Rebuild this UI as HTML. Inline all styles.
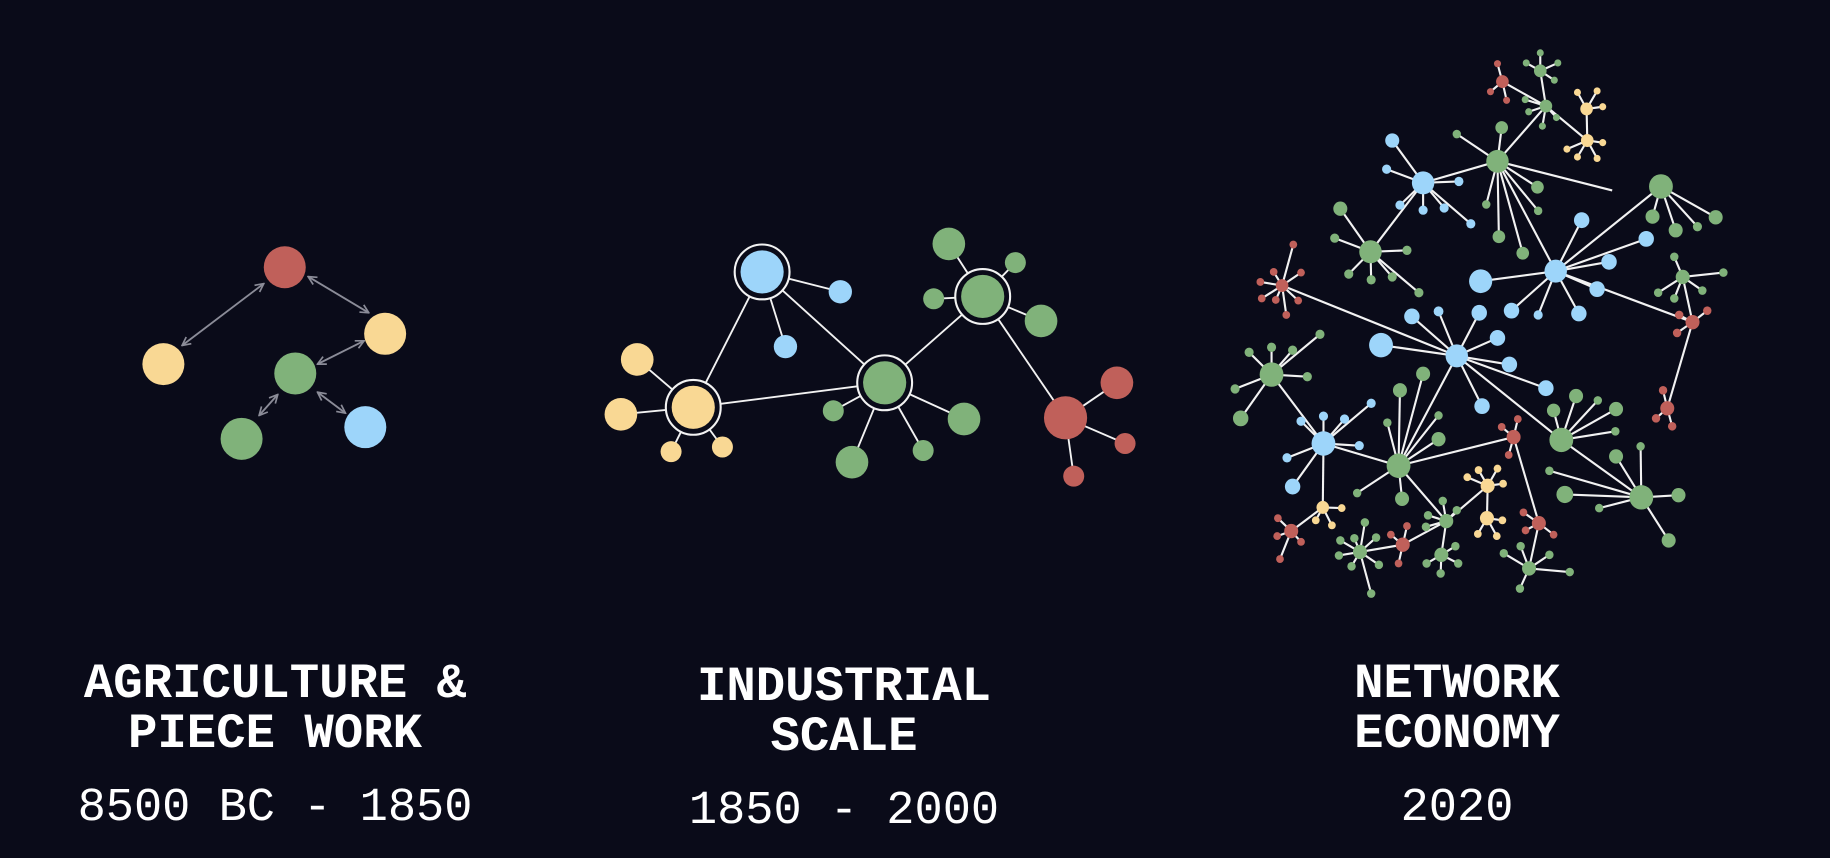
<!DOCTYPE html>
<html><head><meta charset="utf-8"><style>
html,body{margin:0;padding:0;background:#0a0b19;}
#wrap{position:relative;width:1830px;height:858px;overflow:hidden;background:#0a0b19;}
svg{position:absolute;left:0;top:0;}
.t{font-family:"Liberation Mono",monospace;fill:#fff;text-anchor:middle;}
.h{font-weight:bold;font-size:49px;}
.d{font-size:47px;}
</style></head><body>
<div id="wrap">
<svg id="svg" width="1830" height="858" viewBox="0 0 1830 858">
<defs>
<marker id="ah" viewBox="0 0 10 10" refX="9" refY="5" markerWidth="9" markerHeight="9" orient="auto-start-reverse" markerUnits="userSpaceOnUse"><path d="M1,1 L9,5 L1,9" fill="none" stroke="#8b8c98" stroke-width="1.6"/></marker>
</defs>
<g id="left" transform="scale(1.16709)"></g>
<g id="mid" transform="scale(1.16709)"></g>
<g id="right" transform="translate(1200,45) scale(0.3508,0.359)"></g>
<g>
<text class="t h" x="275" y="697">AGRICULTURE &amp;</text>
<text class="t h" x="275" y="747">PIECE WORK</text>
<text class="t d" x="275" y="820">8500 BC - 1850</text>
</g>
<g>
<text class="t h" x="844" y="700">INDUSTRIAL</text>
<text class="t h" x="844" y="750">SCALE</text>
<text class="t d" x="844" y="823">1850 - 2000</text>
</g>
<g>
<text class="t h" x="1457" y="697">NETWORK</text>
<text class="t h" x="1457" y="747">ECONOMY</text>
<text class="t d" x="1457" y="820">2020</text>
</g>
</svg>
</div>
<script>
const C={G:'#80b27a',B:'#9dd5fa',R:'#c0605a',Y:'#f9d894'};
const NS='http://www.w3.org/2000/svg';
function mk(parent,tag,attrs){const e=document.createElementNS(NS,tag);for(const k in attrs)e.setAttribute(k,attrs[k]);parent.appendChild(e);return e;}

// Left diagram
const leftNodes=[[244,229,'R'],[140,312,'Y'],[330,286,'Y'],[253,320,'G'],[207,376,'G'],[313,366,'B']];
const leftArrows=[[226,243,156,296],[264,237,316,268],[272,312,312,292],[238,338,222,356],[272,336,296,354]];
const L=document.getElementById('left');
leftArrows.forEach(a=>{const l=mk(L,'line',{x1:a[0],y1:a[1],x2:a[2],y2:a[3],stroke:'#8b8c98','stroke-width':1.6,'marker-start':'url(#ah)','marker-end':'url(#ah)'});

});
leftNodes.forEach(n=>{const c=mk(L,'circle',{cx:n[0],cy:n[1],r:18,fill:C[n[2]]});

});

// Middle diagram
const midHubs=[[653,233,'B'],[594,349,'Y'],[758,328,'G'],[842,254,'G']];
const midLeaves=[[720,250,10,'B',0],[673,297,10,'B',0],[546,308,14,'Y',1],[532,355,14,'Y',1],[575,387,9,'Y',1],[619,383,9,'Y',1],
[714,352,9,'G',2],[730,396,14,'G',2],[791,386,9,'G',2],[826,359,14,'G',2],
[813,209,14,'G',3],[870,225,9,'G',3],[800,256,9,'G',3],[892,275,14,'G',3]];
const redHub=[913,358];
const redLeaves=[[957,328,14],[964,380,9],[920,408,9]];
const midEdges=[[1,0],[0,2],[1,2],[2,3]];
const M=document.getElementById('mid');
function ln(p,x1,y1,x2,y2,w){const l=mk(p,'line',{x1,y1,x2,y2,stroke:'#f2f2f2','stroke-width':w});

return l;}
midEdges.forEach(e=>ln(M,midHubs[e[0]][0],midHubs[e[0]][1],midHubs[e[1]][0],midHubs[e[1]][1],1.6));
ln(M,midHubs[3][0],midHubs[3][1],redHub[0],redHub[1],1.6);
midLeaves.forEach(l=>ln(M,l[0],l[1],midHubs[l[4]][0],midHubs[l[4]][1],1.6));
redLeaves.forEach(l=>ln(M,l[0],l[1],redHub[0],redHub[1],1.6));
midLeaves.forEach(l=>{const c=mk(M,'circle',{cx:l[0],cy:l[1],r:l[2],fill:C[l[3]]});

});
redLeaves.forEach(l=>{const c=mk(M,'circle',{cx:l[0],cy:l[1],r:l[2],fill:C.R});

});
midHubs.forEach(h=>{const g=mk(M,'circle',{cx:h[0],cy:h[1],r:23.5,fill:'#0a0b19',stroke:'#f2f2f2','stroke-width':1.8});


const c=mk(M,'circle',{cx:h[0],cy:h[1],r:18.5,fill:C[h[2]]});

});
const rh=mk(M,'circle',{cx:redHub[0],cy:redHub[1],r:18.5,fill:C.R});



// Right network (zoom-space coords)
const hubs={
R1:[862,102,18,'R',[[848,52,10],[828,130,10],[874,154,10]]],
G1:[970,72,18,'G',[[970,22,10],[930,50,10],[1020,50,10],[1010,98,10]]],
G2:[986,170,18,'G',[[927,152,10],[937,186,10],[976,226,10],[1016,202,10]]],
Y1:[1102,178,18,'Y',[[1076,132,10],[1132,128,10],[1148,172,10]]],
Y2:[1104,266,18,'Y',[[1046,290,10],[1076,312,10],[1132,316,10],[1148,272,10]]],
G3:[848,324,32,'G',[[860,230,18],[732,248,12],[962,396,18],[964,462,12],[816,444,12],[852,534,18],[920,580,18],[1175,405,0]]],
B1:[636,384,32,'B',[[548,266,20],[532,346,13],[738,380,13],[570,446,13],[636,460,13],[696,454,13],[772,498,13]]],
G4:[486,576,32,'G',[[400,456,20],[384,538,13],[590,572,13],[424,638,13],[488,654,13],[548,646,13],[624,690,13]]],
R2:[234,670,18,'R',[[266,556,11],[288,634,11],[210,632,11],[172,660,11],[176,706,11],[216,710,11],[280,712,11],[246,752,11]]],
B3:[1014,630,32,'B',[[1088,488,22],[1272,540,22],[1166,604,22],[1132,680,22],[1080,748,22],[964,752,13],[888,740,22],[800,658,33]]],
G5:[1314,394,34,'G',[[1290,478,20],[1356,516,20],[1418,506,13],[1470,480,20]]],
G6:[1376,646,20,'G',[[1352,590,12],[1492,634,12],[1306,690,12],[1352,706,12],[1432,684,12]]],
R3:[1404,772,20,'R',[[1366,752,12],[1446,740,12],[1360,802,12]]],
R4:[1332,1012,20,'R',[[1320,962,12],[1300,1040,12],[1346,1062,12]]],
B4:[732,866,32,'B',[[604,756,22],[680,742,14],[796,746,22],[848,816,22],[882,890,22],[986,956,22],[804,1006,22],[516,836,34]]],
G7:[204,918,34,'G',[[140,856,13],[204,842,13],[264,850,13],[342,806,13],[306,924,13],[100,958,13],[116,1040,22]]],
B5:[352,1110,34,'B',[[288,1048,13],[352,1034,13],[412,1042,13],[488,998,13],[454,1116,13],[248,1150,13],[264,1230,22]]],
G8:[566,1172,34,'G',[[570,962,20],[636,916,20],[534,1052,12],[680,1032,12],[680,1098,20],[448,1248,12],[576,1264,20]]],
R5:[894,1092,20,'R',[[860,1064,11],[906,1042,11],[880,1142,11]]],
G9:[1030,1100,34,'G',[[1008,1018,19],[1072,978,20],[1134,990,12],[1186,1014,20],[1184,1076,12]]],
G11:[1258,1260,34,'G',[[1186,1146,20],[1256,1118,12],[1364,1254,20],[1336,1380,20],[1138,1290,12],[996,1186,12],[1040,1252,24]]],
R6:[966,1332,20,'R',[[922,1302,11],[928,1352,11],[1008,1364,11]]],
G12:[938,1458,20,'G',[[914,1396,12],[866,1416,12],[996,1420,12],[1054,1468,12],[912,1514,12]]],
Y3:[350,1288,18,'Y',[[404,1290,11],[330,1324,11],[376,1338,11]]],
R7:[260,1354,20,'R',[[222,1318,11],[220,1368,11],[288,1384,11],[228,1432,11]]],
Y4:[820,1228,20,'Y',[[762,1204,11],[794,1184,11],[848,1180,11],[864,1222,11]]],
Y5:[818,1318,20,'Y',[[792,1362,11],[846,1368,11],[862,1324,11]]],
G10:[702,1326,20,'G',[[692,1270,12],[732,1296,12],[650,1310,12],[644,1342,12]]],
G13:[688,1420,20,'G',[[646,1444,12],[686,1472,12],[736,1444,12],[728,1396,12]]],
R8:[578,1392,20,'R',[[544,1364,11],[590,1340,11],[566,1444,11]]],
G14:[456,1412,20,'G',[[470,1330,12],[440,1374,12],[400,1380,12],[396,1422,12],[432,1452,12],[510,1448,12],[488,1528,12],[502,1372,12]]]
};
const hubEdges=[['R1','G2'],['G1','G2'],['G2','Y2'],['Y1','Y2'],['G3','G2'],['G3','B1'],['G3','B3'],['G4','B1'],['R2','B4'],['B3','G5'],['B3','R3'],['G6','R3'],['R3','R4'],['B4','G8'],['B4','G9'],['G7','B5'],['B5','G8'],['B5','Y3'],['G8','R5'],['G8','G10'],['R5','R6'],['G9','G11'],['R6','G12'],['Y3','R7'],['Y4','Y5'],['Y4','G10'],['G10','G13'],['G10','R8'],['R8','G14']];
const RG=document.getElementById('right');
hubEdges.forEach(e=>{const a=hubs[e[0]],b=hubs[e[1]];ln(RG,a[0],a[1],b[0],b[1],6);});
for(const k in hubs){const h=hubs[k];h[4].forEach(c=>ln(RG,h[0],h[1],c[0],c[1],6));}
for(const k in hubs){const h=hubs[k];
h[4].forEach(c=>{if(c[2]>0){const e=mk(RG,'circle',{cx:c[0],cy:c[1],r:c[2],fill:C[h[3]]});

}});
const e=mk(RG,'circle',{cx:h[0],cy:h[1],r:h[2],fill:C[h[3]]});

}
</script>
</body></html>
